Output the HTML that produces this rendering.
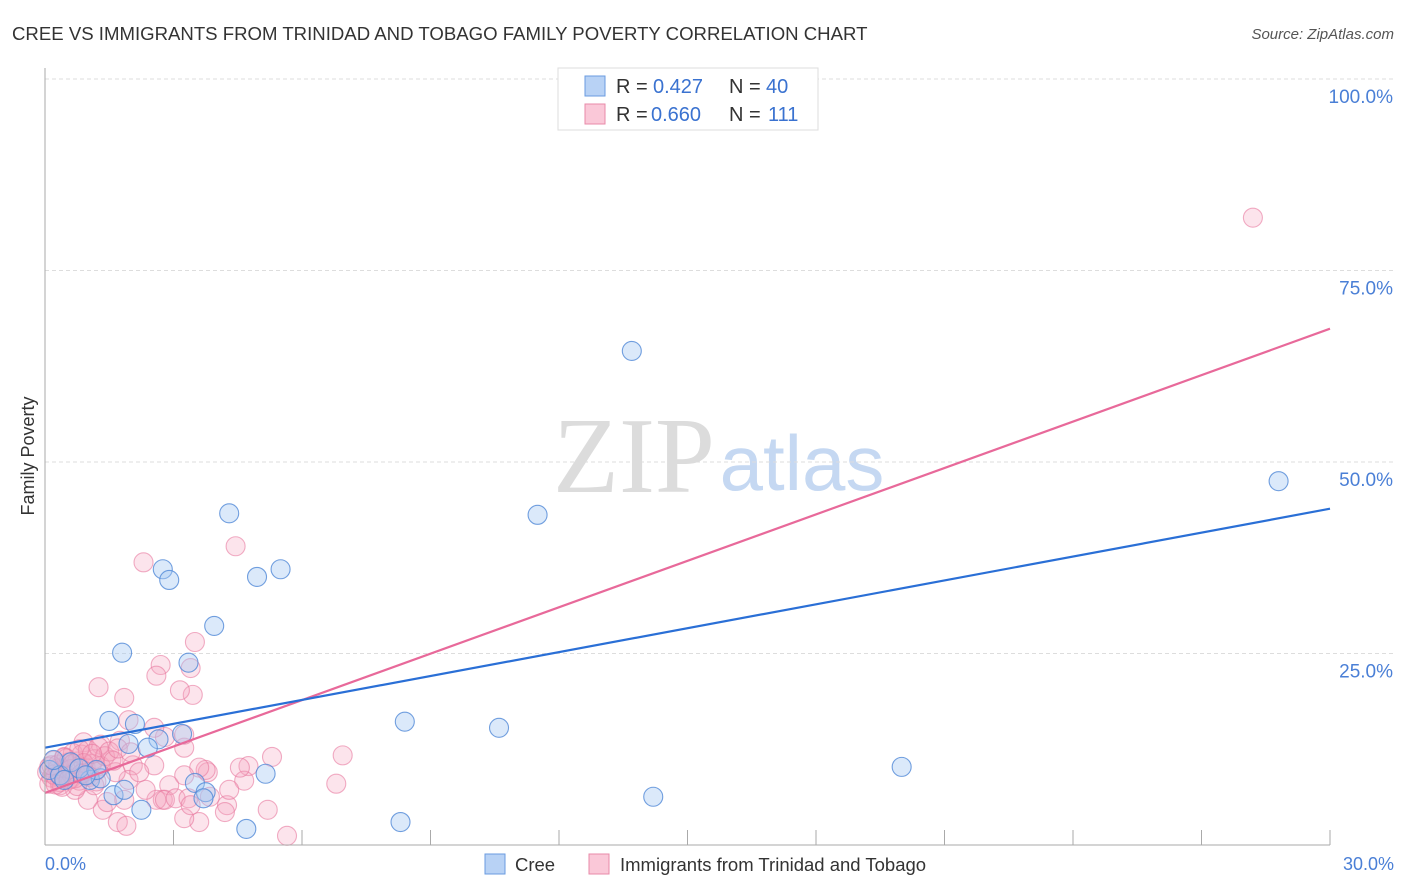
<!DOCTYPE html>
<html><head><meta charset="utf-8"><style>
body{margin:0;background:#fff;font-family:"Liberation Sans",sans-serif;}
#c{position:relative;width:1406px;height:892px;overflow:hidden}
</style></head><body>
<div id="c">
<svg id="s" width="1406" height="892" xmlns="http://www.w3.org/2000/svg">
<text x="12" y="40" font-size="18.6" fill="#333">CREE VS IMMIGRANTS FROM TRINIDAD AND TOBAGO FAMILY POVERTY CORRELATION CHART</text>
<text x="1394" y="39" font-size="15" fill="#555" font-style="italic" text-anchor="end">Source: ZipAtlas.com</text>
<text x="634" y="492" font-size="108" fill="#dcdcdc" font-family="Liberation Serif,serif" text-anchor="middle">ZIP</text>
<text x="802" y="490" font-size="78" fill="#c5d8f2" text-anchor="middle">atlas</text>
<g id="grid"></g>
<g id="pts"></g>
<g id="lines"></g>
<line x1="45" y1="68" x2="45" y2="845" stroke="#aaa"/>
<line x1="45" y1="845" x2="1330" y2="845" stroke="#aaa"/>
<text transform="translate(34,456) rotate(-90)" font-size="18" fill="#333" text-anchor="middle">Family Poverty</text>
<text x="45" y="870" font-size="18" fill="#4a7fd6">0.0%</text>
<text x="1394" y="870" font-size="18" fill="#4a7fd6" text-anchor="end">30.0%</text>
<g>
<rect x="558" y="68" width="260" height="62" fill="#fff" stroke="#ddd"/>
<rect x="585" y="76" width="20" height="20" fill="#b8d2f5" stroke="#6a9be0"/>
<rect x="585" y="104" width="20" height="20" fill="#fac8d8" stroke="#e88aa8"/>
<text x="616" y="93" font-size="20" fill="#333">R =</text>
<text x="653" y="93" font-size="20" fill="#3a72d0">0.427</text>
<text x="729" y="93" font-size="20" fill="#333">N =</text>
<text x="766" y="93" font-size="20" fill="#3a72d0">40</text>
<text x="616" y="121" font-size="20" fill="#333">R =</text>
<text x="651" y="121" font-size="20" fill="#3a72d0">0.660</text>
<text x="729" y="121" font-size="20" fill="#333">N =</text>
<text x="768" y="121" font-size="20" fill="#3a72d0">111</text>
</g>
<g>
<rect x="485" y="854" width="20" height="20" fill="#b8d2f5" stroke="#6a9be0"/>
<text x="515" y="871" font-size="18.5" fill="#333">Cree</text>
<rect x="589" y="854" width="20" height="20" fill="#fac8d8" stroke="#e88aa8"/>
<text x="620" y="871" font-size="18.5" fill="#333">Immigrants from Trinidad and Tobago</text>
</g>
</svg>
</div>
<script>
const yTicks=[25,50,75,100];
const yTickLabels=["25.0%","50.0%","75.0%","100.0%"];
const xTicks=[3,6,9,12,15,18,21,24,27,30];
const creeX=[13.7,28.8,11.5,4.3,2.75,2.9,4.95,5.5,3.95,1.8,3.35,1.5,2.1,8.4,10.6,1.95,2.65,3.2,2.4,5.15,20.0,3.5,3.75,14.2,2.25,8.3,4.7,3.7,0.1,0.35,1.05,1.3,0.6,1.6,0.2,0.8,1.85,1.2,0.45,0.95];
const creeY=[64.5,47.5,43.1,43.3,36.0,34.6,35.0,36.0,28.6,25.1,23.8,16.2,15.8,16.1,15.3,13.2,13.8,14.5,12.7,9.3,10.2,8.1,6.9,6.3,4.6,3.0,2.1,6.1,9.8,9.1,8.5,8.7,10.8,6.5,11.1,10.0,7.2,9.8,8.5,9.1];
const tripX=[28.2,4.45,2.3,3.5,2.7,2.6,3.4,3.45,3.15,1.25,1.85,6.95,5.3,6.8,4.75,4.65,4.25,5.2,5.65,4.3,3.8,3.75,3.6,3.25,3.25,2.8,1.95,2.55,1.75,1.3,0.9,1.55,2.05,2.55,2.9,2.75,3.6,3.25,2.6,2.35,1.95,1.35,1.7,1.9,1.45,1.0,0.7,0.35,1.15,1.65,2.2,1.85,3.85,4.2,4.55,3.25,2.8,3.05,3.35,3.4,
0.05,0.1,0.15,0.2,0.25,0.3,0.35,0.4,0.45,0.5,0.55,0.6,0.65,0.7,0.75,0.8,0.85,0.9,0.95,1.0,1.05,1.1,1.15,1.2,1.25,1.3,1.4,1.5,0.1,0.2,0.3,0.4,0.5,0.6,0.7,0.8,0.9,1.0,1.1,1.2,0.15,0.25,0.35,0.45,0.55,0.65,0.75,0.85,1.6,1.7,2.0];
const tripY=[81.9,39.0,36.9,26.5,23.5,22.1,23.1,19.6,20.2,20.6,19.2,11.7,11.5,8.0,10.3,8.4,5.2,4.6,1.2,7.2,9.5,9.8,10.1,12.7,14.4,14.1,16.3,15.3,13.6,13.1,13.4,11.1,10.4,10.4,7.8,5.9,3.0,3.5,5.9,7.2,8.5,4.6,3.0,2.5,5.6,5.9,7.2,7.8,7.8,9.5,9.5,5.9,6.3,4.3,10.1,9.1,5.9,6.1,6.1,5.2,
9.5,10.2,8.8,11.0,9.0,10.5,8.2,9.8,11.5,9.2,10.8,8.6,12.0,9.6,10.9,8.4,11.8,9.4,10.1,12.4,8.9,10.6,11.2,9.7,12.8,10.3,11.6,12.2,8.0,9.2,10.0,7.6,11.3,9.9,8.7,12.5,10.7,9.1,11.9,8.3,10.4,7.9,9.0,11.4,8.5,10.6,7.7,9.3,11.0,12.6,12.1];
const creeLine=[12.7,43.9];
const tripLine=[6.8,67.4];
const ns="http://www.w3.org/2000/svg";
const X=v=>45+v/30*1285, Y=v=>845-v/100*766;
const grid=document.getElementById('grid');
yTicks.forEach((t,i)=>{
 const l=document.createElementNS(ns,'line');
 l.setAttribute('x1',45);l.setAttribute('x2',1395);l.setAttribute('y1',Y(t));l.setAttribute('y2',Y(t));
 l.setAttribute('stroke','#ddd');l.setAttribute('stroke-dasharray','4,3');
 
 
 grid.appendChild(l);
 const tx=document.createElementNS(ns,'text');
 tx.setAttribute('x',1393);tx.setAttribute('y',Y(t)+24);tx.setAttribute('text-anchor','end');
 tx.setAttribute('font-size','19');tx.setAttribute('fill','#4a7fd6');tx.textContent=yTickLabels[i];
 
 
 grid.appendChild(tx);
});
xTicks.forEach(t=>{
 const l=document.createElementNS(ns,'line');
 l.setAttribute('x1',X(t));l.setAttribute('x2',X(t));l.setAttribute('y1',830);l.setAttribute('y2',845);
 l.setAttribute('stroke','#aaa');
 
 
 grid.appendChild(l);
});
const pts=document.getElementById('pts');
function dot(x,y,fill,stroke,name){
 const c=document.createElementNS(ns,'circle');
 c.setAttribute('cx',X(x));c.setAttribute('cy',Y(y));c.setAttribute('r',9.5);
 c.setAttribute('fill',fill);c.setAttribute('stroke',stroke);c.setAttribute('stroke-width','1.1');
 
 
 pts.appendChild(c);
}
tripX.forEach((x,i)=>dot(x,tripY[i],'rgba(244,165,192,0.3)','rgba(232,120,158,0.6)','trinidad-point'));
creeX.forEach((x,i)=>dot(x,creeY[i],'rgba(165,199,242,0.4)','rgba(80,136,215,0.8)','cree-point'));
const lines=document.getElementById('lines');
function ln(a,col,name){
 const l=document.createElementNS(ns,'line');
 l.setAttribute('x1',X(0));l.setAttribute('x2',X(30));l.setAttribute('y1',Y(a[0]));l.setAttribute('y2',Y(a[1]));
 l.setAttribute('stroke',col);l.setAttribute('stroke-width','2.2');
 
 
 lines.appendChild(l);
}
ln(tripLine,'#e8699a','trinidad-trend-line');
ln(creeLine,'#2a6fd6','cree-trend-line');
</script>
</body></html>
